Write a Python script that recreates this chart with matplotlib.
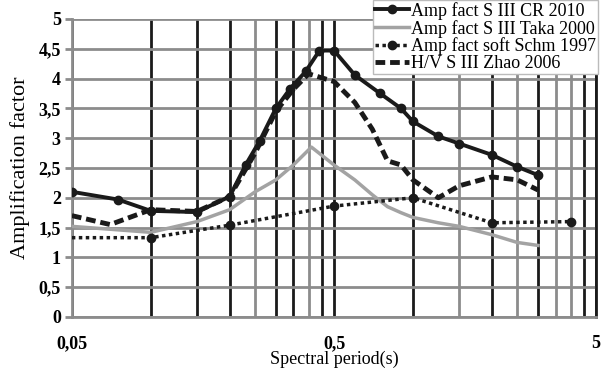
import numpy as np
import matplotlib
matplotlib.use("Agg")
import matplotlib.pyplot as plt
from matplotlib.ticker import FixedLocator, FuncFormatter

# ==========================================
# DATA
# ==========================================

cr_period = [0.05, 0.075, 0.1, 0.15, 0.2, 0.23, 0.26, 0.3, 0.34, 0.39, 0.44,
             0.5, 0.6, 0.75, 0.9, 1.0, 1.25, 1.5, 2.0, 2.5, 3.0]
cr_amp = [2.1, 1.97, 1.78, 1.76, 2.02, 2.55, 2.95, 3.5, 3.83, 4.12, 4.47,
          4.47, 4.06, 3.75, 3.5, 3.28, 3.03, 2.91, 2.72, 2.52, 2.38]

taka_period = [0.05, 0.1, 0.15, 0.2, 0.25, 0.3, 0.35, 0.41, 0.5, 0.6, 0.7,
               0.8, 0.9, 1.0, 1.25, 1.5, 2.0, 2.5, 3.0]
taka_amp = [1.52, 1.42, 1.6, 1.8, 2.1, 2.3, 2.55, 2.85, 2.55, 2.3, 2.05,
            1.85, 1.75, 1.67, 1.58, 1.52, 1.38, 1.25, 1.2]

schm_period = [0.05, 0.1, 0.2, 0.5, 1.0, 2.0, 4.0]
schm_amp = [1.33, 1.33, 1.54, 1.86, 2.0, 1.58, 1.6]

zhao_period = [0.05, 0.07, 0.1, 0.15, 0.2, 0.25, 0.3, 0.35, 0.4, 0.5, 0.6,
               0.7, 0.8, 0.9, 1.0, 1.25, 1.5, 2.0, 2.5, 3.0]
zhao_amp = [1.7, 1.55, 1.8, 1.77, 2.02, 2.75, 3.45, 3.82, 4.08, 3.95, 3.6,
            3.15, 2.62, 2.55, 2.3, 2.0, 2.2, 2.35, 2.3, 2.13]

x_major = [0.05, 0.5, 5]
x_minor = [0.1, 0.15, 0.2, 0.25, 0.3, 0.35, 0.4, 0.45,
           1.0, 1.5, 2.0, 2.5, 3.0, 3.5, 4.0, 4.5]
y_ticks = np.arange(0, 5.01, 0.5)

# ==========================================
# PLOT
# ==========================================

plt.rcParams["font.family"] = ["Liberation Serif", "DejaVu Serif"]

fig = plt.figure(figsize=(6.04, 3.72), dpi=100)
ax = fig.add_axes([0.119, 0.148, 0.868, 0.801])

ax.set_xscale("log")
ax.set_xlim(0.05, 5)
ax.set_ylim(0, 5)

dark = "#1a1a1a"
grey = "#8c8c8c"

ax.xaxis.set_major_locator(FixedLocator(x_major))
ax.xaxis.set_minor_locator(FixedLocator(x_minor))
ax.xaxis.set_major_formatter(FuncFormatter(lambda v, p: f"{v:g}".replace(".", ",")))
ax.xaxis.set_minor_formatter(FuncFormatter(lambda v, p: ""))
ax.set_yticks(y_ticks)
ax.yaxis.set_major_formatter(FuncFormatter(lambda v, p: f"{v:g}".replace(".", ",")))

ax.grid(True, which="both", axis="x", color=dark, linewidth=2)
ax.grid(True, which="major", axis="y", color=grey, linewidth=2)

# some vertical lines came out grey in the source picture
grey_minor = [0.25, 0.4, 1.5, 2.5, 3.5, 4.0]
for t, v in zip(ax.xaxis.get_minor_ticks(), x_minor):
    if v in grey_minor:
        t.gridline.set_color(grey)

ax.set_axisbelow(True)
ax.spines["top"].set_visible(False)
ax.spines["right"].set_color(dark)
ax.spines["right"].set_linewidth(2)
for s in ["left", "bottom"]:
    ax.spines[s].set_color(grey)
    ax.spines[s].set_linewidth(2)

ax.tick_params(axis="y", which="major", length=5, width=2, color=grey,
               labelsize=13, pad=3)
ax.tick_params(axis="x", which="both", length=0, labelsize=13, pad=13)
for lab in ax.get_xticklabels() + ax.get_yticklabels():
    lab.set_fontweight("bold")

ax.plot(taka_period, taka_amp, color="#a3a3a3", linewidth=2.5,
        label="Amp fact S III Taka 2000", zorder=3)
ax.plot(schm_period, schm_amp, color=dark, linewidth=2.5, linestyle=(0, (1, 1)),
        marker="o", markersize=6, markevery=list(range(1, len(schm_period))),
        label="Amp fact soft Schm 1997", zorder=4)
ax.plot(zhao_period, zhao_amp, color=dark, linewidth=3.5, linestyle=(0, (2, 1)),
        label="H/V S III Zhao 2006", zorder=5)
ax.plot(cr_period, cr_amp, color=dark, linewidth=2.8, marker="o", markersize=6,
        label="Amp fact S III CR 2010", zorder=6)

ax.set_ylabel("Amplification factor", fontsize=16, labelpad=6)
ax.set_xlabel("Spectral period(s)", fontsize=13, labelpad=-1)

handles, labels = ax.get_legend_handles_labels()
order = [3, 0, 1, 2]
leg = ax.legend([handles[i] for i in order], [labels[i] for i in order],
                loc="upper right", bbox_to_anchor=(0.99, 1.0),
                bbox_transform=fig.transFigure, fontsize=13, frameon=True,
                fancybox=False, framealpha=1, edgecolor="#bbbbbb",
                handlelength=1.9, handletextpad=0.1, labelspacing=0.0,
                borderpad=0.1, borderaxespad=0)
leg.get_frame().set_linewidth(1)
leg.set_zorder(10)

plt.savefig("out.png", dpi=100)
